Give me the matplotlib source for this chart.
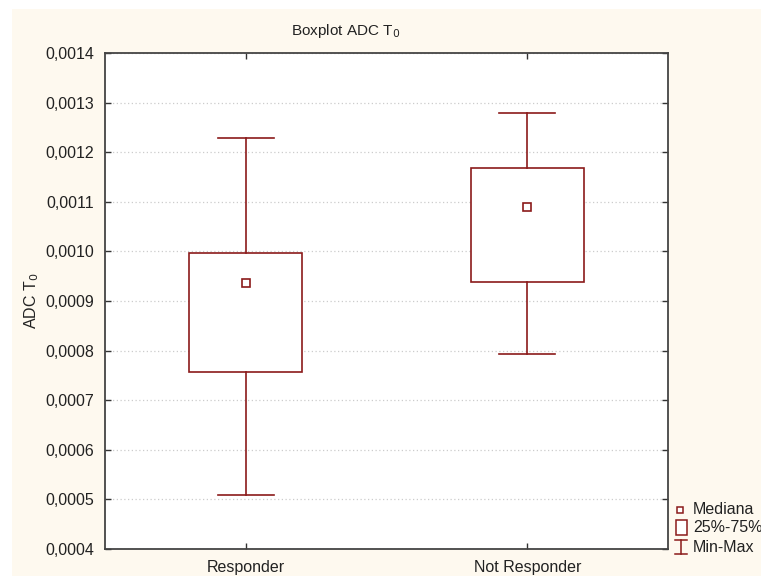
import numpy as np
import matplotlib
matplotlib.use("Agg")
import matplotlib.pyplot as plt
from matplotlib.patches import Rectangle
from matplotlib.lines import Line2D
from matplotlib.ticker import FuncFormatter, MultipleLocator

plt.rcParams['font.family'] = ['Liberation Sans', 'DejaVu Sans']
plt.rcParams['font.size'] = 11

groups = ["Responder", "Not Responder"]
mins = [0.000509, 0.000793]
q1 = [0.000756, 0.000939]
medians = [0.000937, 0.001090]
q3 = [0.000996, 0.001168]
maxs = [0.001229, 0.001279]

red = "#8B1A1A"
W, H = 761, 576

fig = plt.figure(figsize=(W / 100, H / 100), dpi=100)
fig.patch.set_facecolor("white")
fig.add_artist(Rectangle((12 / W, 0), 1 - 12 / W, 1 - 9 / H, transform=fig.transFigure,
                         facecolor="#FEF9EF", edgecolor="none", zorder=-10))

ax = fig.add_axes([105 / W, 1 - 549 / H, (668 - 105) / W, (549 - 53) / H])
ax.set_facecolor("white")

stats = [dict(whislo=mins[i], q1=q1[i], med=medians[i], q3=q3[i], whishi=maxs[i],
              label=groups[i]) for i in range(len(groups))]
pos = np.arange(len(groups))
ax.bxp(stats, positions=pos, widths=0.4, showfliers=False, patch_artist=True,
       boxprops=dict(facecolor="white", edgecolor=red, linewidth=1.2),
       whiskerprops=dict(color=red, linewidth=1.2),
       capprops=dict(color=red, linewidth=1.2),
       capwidths=0.2,
       medianprops=dict(visible=False), zorder=3)
ax.plot(pos, medians, "s", ms=6, mfc="white", mec=red, mew=1.2, ls="none", zorder=4)

ax.set_xlim(-0.5, 1.5)
ax.set_ylim(0.0004, 0.0014)
ax.yaxis.set_major_locator(MultipleLocator(0.0001))
ax.yaxis.set_major_formatter(FuncFormatter(lambda v, p: f"{v:.4f}".replace(".", ",")))
ax.set_xticks(pos)
ax.set_xticklabels(groups)
ax.tick_params(direction="in", top=True, right=True, length=4, width=1, colors="#333333",
               labelcolor="#222222", labelsize=11.5)
ax.tick_params(axis="x", pad=8)
ax.tick_params(axis="y", pad=8)
ax.grid(axis="y", linestyle=(0, (1, 2)), color="#cccccc", linewidth=0.9, zorder=0)
ax.set_axisbelow(True)
for s in ax.spines.values():
    s.set_color("#444444")
    s.set_linewidth(1.3)

ax.set_ylabel("ADC T$_0$", fontsize=11.5, labelpad=3, color="#222222")
fig.text(346 / W, 1 - 31 / H, "Boxplot ADC T$_0$", ha="center", va="center",
         fontsize=11, color="#222222")

# legend drawn by hand to the right of the axes
def fx(x):
    return x / W

def fy(y):
    return 1 - y / H

fig.add_artist(Rectangle((fx(676.5), fy(512.5)), 6 / W, 6 / H, transform=fig.transFigure,
                         facecolor="white", edgecolor=red, linewidth=1.1))
fig.add_artist(Rectangle((fx(675.5), fy(535)), 11 / W, 15 / H, transform=fig.transFigure,
                         facecolor="white", edgecolor=red, linewidth=1.1))
fig.add_artist(Line2D([fx(681), fx(681)], [fy(540), fy(554)], transform=fig.transFigure,
                      color=red, lw=1.1))
fig.add_artist(Line2D([fx(675), fx(687)], [fy(540), fy(540)], transform=fig.transFigure,
                      color=red, lw=1.1))
fig.add_artist(Line2D([fx(675), fx(687)], [fy(554), fy(554)], transform=fig.transFigure,
                      color=red, lw=1.1))
for txt, y in [("Mediana", 509), ("25%-75%", 527), ("Min-Max", 547)]:
    fig.text(fx(693), fy(y), txt, ha="left", va="center", fontsize=11.5, color="#222222")

fig.savefig("out.png", dpi=100)
